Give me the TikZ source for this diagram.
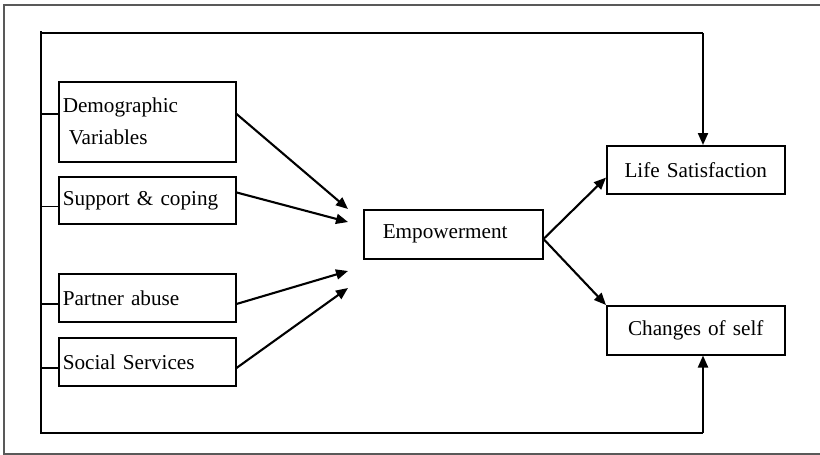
\documentclass[tikz,border=0pt]{standalone}
\usepackage{fontspec}
\setmainfont{Liberation Serif}
\usetikzlibrary{arrows.meta}

\begin{document}
\begin{tikzpicture}[x={(0.5pt, 0pt)}, y={(0pt, -0.5pt)},
  box/.style={draw, line width=0.75pt, anchor=north west, inner ysep=0pt,
              font=\fontsize{10.6}{13}\selectfont},
  arr/.style={-{Triangle[length=6pt, width=5pt]}, line width=1.05pt},
  loopline/.style={line width=0.8pt}]
  \useasboundingbox (0, 0) rectangle (820, 455);
  \draw[black!65, line width=0.6pt] (820, 5) to (4, 5) to (4, 454) to (820, 454);

  % boxes
  \node[box, inner xsep=2pt, text width=84.5pt, minimum height=40pt, align=left]
    (demo) at (58, 81) {Demographic\\[3pt]\hspace*{3pt}Variables};
  \node[box, inner xsep=2pt, text width=84.5pt, minimum height=23.5pt, align=left]
    (supp) at (58, 176) {Support \& coping};
  \node[box, inner xsep=2pt, text width=84.5pt, minimum height=24pt, align=left]
    (abuse) at (58, 273) {Partner abuse};
  \node[box, inner xsep=2pt, text width=84.5pt, minimum height=24pt, align=left]
    (serv) at (58, 337) {Social Services};
  \node[box, inner xsep=9.5pt, text width=70.5pt, minimum height=24.5pt, align=left]
    (emp) at (363, 209) {Empowerment};
  \node[box, inner xsep=2pt, text width=85pt, minimum height=24pt, align=center]
    (life) at (606, 145) {Life Satisfaction};
  \node[box, inner xsep=2pt, text width=85pt, minimum height=24.5pt, align=center]
    (self) at (606, 305) {Changes of self};

  % free arrow ends in front of Empowerment
  \coordinate (inA) at (348, 209);
  \coordinate (inB) at (348, 222);
  \coordinate (inC) at (348, 271);
  \coordinate (inD) at (348, 288);

  \draw[arr] (demo.5) to (inA);
  \draw[arr] (supp.5) to (inB);
  \draw[arr] (abuse.-4) to (inC);
  \draw[arr] (serv.-4) to (inD);
  \draw[arr] (emp.-3) to (life.185);
  \draw[arr] (emp.-3) to (self.north west);

  % outer loop
  \coordinate (loopTL) at (41, 31);
  \coordinate (loopBL) at (41, 433);
  \coordinate (loopTR) at (703, 33);
  \coordinate (loopBR) at (703, 433);
  \draw[loopline] (loopTL) to (loopBL) to (loopBR);
  \draw[loopline] (41, 33) to (loopTR);
  \draw[arr] (loopTR) to (loopTR |- life.north);
  \draw[arr] (loopBR) to (loopBR |- self.south);
  \foreach \b/\a in {demo/175, supp/184, abuse/184, serv/184} {
    \draw[loopline] (\b.\a -| loopTL) to (\b.\a);
  }
\end{tikzpicture}
\end{document}
